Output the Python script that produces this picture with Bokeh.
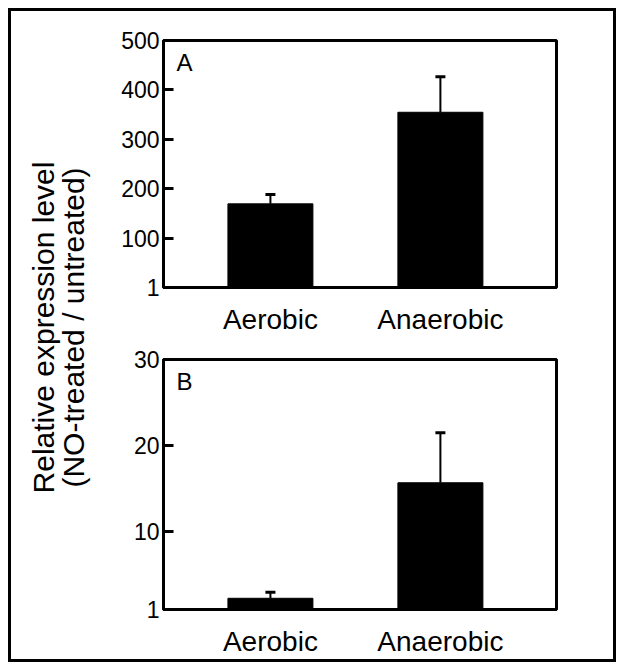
import numpy as np
from bokeh.plotting import figure
from bokeh.models import (ColumnDataSource, Range1d, FixedTicker, Whisker, TeeHead, Label, Spacer)
from bokeh.layouts import row, column
from bokeh.embed import file_html
from bokeh.resources import INLINE

# ---- data ----
categories = ["Aerobic", "Anaerobic"]
a_values = [170, 355]
a_errors = [19, 72]
b_values = [2.3, 15.7]
b_errors = [0.7, 5.8]
a_ticks = [1, 100, 200, 300, 400, 500]
b_ticks = [1, 10, 20, 30]
panel_letters = ["A", "B"]
ylabel_lines = ["Relative expression level", "(NO-treated / untreated)"]

FONT = "Liberation Sans"
xpos = list(np.arange(len(categories)) + 0.5)


def panel(values, errors, ticks, letter, height, top, bottom):
    p = figure(width=513, height=height, output_backend="svg", toolbar_location=None,
               x_range=Range1d(-0.129, 2.183), y_range=Range1d(ticks[0], ticks[-1]),
               min_border_left=63, min_border_right=57, min_border_top=top,
               min_border_bottom=bottom, background_fill_color="white",
               border_fill_color="white")
    src = ColumnDataSource(dict(x=xpos, top=values,
                                upper=[v + e for v, e in zip(values, errors)]))
    p.vbar(x="x", top="top", bottom=ticks[0], width=0.5, source=src,
           fill_color="black", line_color="black")
    p.add_layout(Whisker(source=src, base="x", lower="top", upper="upper",
                         line_width=2, line_color="black", lower_head=None,
                         upper_head=TeeHead(size=10, line_width=3, line_color="black")))
    p.grid.visible = False
    p.outline_line_color = "black"
    p.outline_line_width = 3
    p.outline_line_alpha = 1

    ya = p.yaxis[0]
    ya.ticker = FixedTicker(ticks=ticks)
    ya.minor_tick_line_color = None
    ya.major_tick_in = 10
    ya.major_tick_out = 0
    ya.major_tick_line_width = 3
    ya.axis_line_width = 3
    ya.major_label_text_font = FONT
    ya.major_label_text_font_size = "23px"
    ya.major_label_text_color = "black"
    ya.major_label_standoff = 4

    xa = p.xaxis[0]
    xa.ticker = FixedTicker(ticks=xpos)
    xa.major_label_overrides = {float(x): c for x, c in zip(xpos, categories)}
    xa.minor_tick_line_color = None
    xa.major_tick_in = 0
    xa.major_tick_out = 0
    xa.axis_line_width = 3
    xa.major_label_text_font = FONT
    xa.major_label_text_font_size = "28px"
    xa.major_label_text_color = "black"
    xa.major_label_standoff = 16

    p.add_layout(Label(x=-0.129, y=ticks[-1], x_offset=13, y_offset=-8, text=letter,
                       text_font=FONT, text_font_size="24px", text_color="black",
                       text_baseline="top", text_align="left"))
    return p


pa = panel(a_values, a_errors, a_ticks, panel_letters[0], 329, 29, 53)
pb = panel(b_values, b_errors, b_ticks, panel_letters[1], 319, 19, 48)

lab = figure(width=89, height=648, output_backend="svg", toolbar_location=None,
             x_range=Range1d(0, 89), y_range=Range1d(0, 648),
             min_border=0, min_border_left=0, min_border_right=0,
             min_border_top=0, min_border_bottom=0)
lab.axis.visible = False
lab.grid.visible = False
lab.outline_line_color = None
for i, t in enumerate(ylabel_lines):
    lab.add_layout(Label(x=32 + 30 * i, y=332, text=t, angle=np.pi / 2,
                         text_font=FONT, text_font_size="30px", text_color="black",
                         text_align="center", text_baseline="alphabetic"))

boxed = row(lab, column(pa, pb), styles={"border": "3px solid black"})
layout = column(Spacer(width=8, height=8), row(Spacer(width=8, height=8), boxed))

open("out.html", "w").write(file_html(layout, INLINE))
